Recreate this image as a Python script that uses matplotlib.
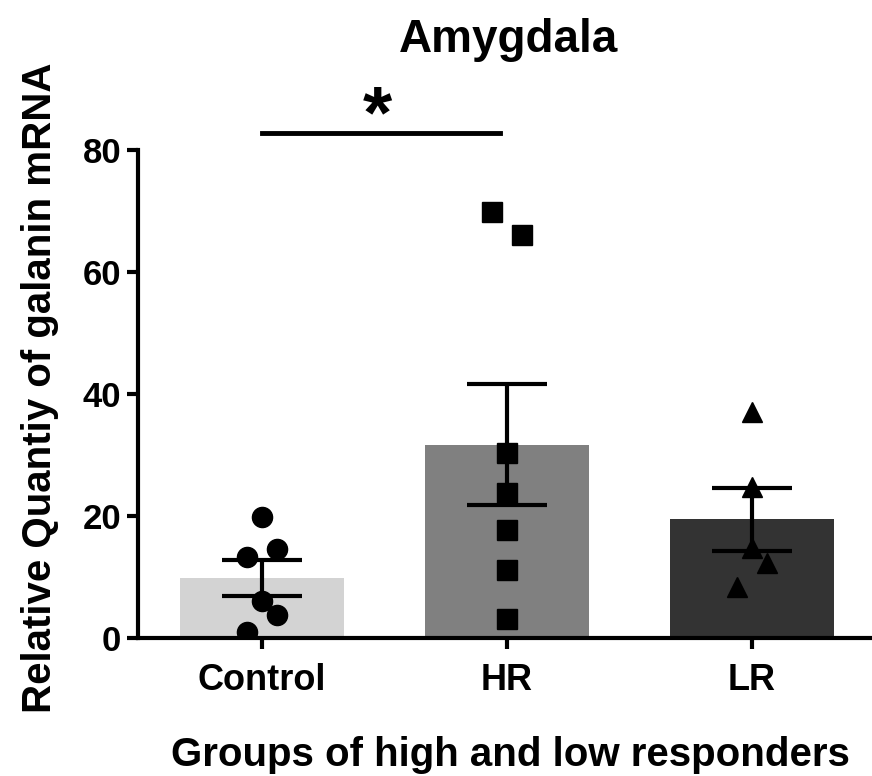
import numpy as np
import matplotlib
matplotlib.use("Agg")
import matplotlib.pyplot as plt

plt.rcParams['font.family'] = ['Liberation Sans', 'DejaVu Sans']
plt.rcParams['font.weight'] = 'bold'

groups = ['Control', 'HR', 'LR']
ctrl_vals = [19.8, 13.3, 14.6, 6.1, 3.8, 1.0]
hr_vals = [69.8, 66.1, 30.3, 23.8, 17.7, 11.1, 3.1]
lr_vals = [37.0, 24.8, 14.8, 12.3, 8.4]
# horizontal spread of the dots (like prism scatter)
ctrl_jit = [0, -0.06, 0.06, 0, 0.06, -0.06]
hr_jit = [-0.06, 0.06, 0, 0, 0, 0, 0]
lr_jit = [0, 0, 0, 0.06, -0.06]

bar_colors = ['#d3d3d3', '#808080', '#333333']
markers = ['o', 's', '^']
yticks = [0, 20, 40, 60, 80]

all_vals = [ctrl_vals, hr_vals, lr_vals]
all_jit = [ctrl_jit, hr_jit, lr_jit]
means = [np.mean(v) for v in all_vals]
sems = [np.std(v, ddof=1) / np.sqrt(len(v)) for v in all_vals]

fig = plt.figure(figsize=(8.72, 7.76), dpi=100)
ax = fig.add_axes([0.1583, 0.1778, 0.8417, 0.6289])

x = np.arange(len(groups))
ax.bar(x, means, width=0.67, color=bar_colors, zorder=1)
for i in range(len(groups)):
    ax.plot(x[i] + np.array(all_jit[i]), all_vals[i], linestyle='none',
            marker=markers[i], markersize=14.5, color='black', zorder=3)
ax.errorbar(x, means, yerr=sems, fmt='none', ecolor='black', elinewidth=3,
            capsize=29, capthick=3, zorder=2)

# significance bar
ax.plot([0, 0.97], [82.8, 82.8], color='black', lw=3.5, clip_on=False)
ax.text(0.47, 82.1, '*', ha='center', va='baseline', fontsize=54,
        fontweight='bold', clip_on=False)

ax.set_xlim(-0.506, 2.49)
ax.set_ylim(0, 80)
ax.set_yticks(yticks)
ax.set_xticks(x)
ax.set_xticklabels(groups)
ax.tick_params(axis='both', width=3, length=8)
ax.tick_params(axis='y', labelsize=25, pad=4)
ax.tick_params(axis='x', labelsize=26, pad=10)
for lab in ax.get_xticklabels() + ax.get_yticklabels():
    lab.set_fontweight('bold')

ax.spines['top'].set_visible(False)
ax.spines['right'].set_visible(False)
ax.spines['left'].set_linewidth(3)
ax.spines['bottom'].set_linewidth(3)

fig.text(40 / 872, 1 - 388 / 776, 'Relative Quantiy of galanin mRNA', rotation=90,
         ha='center', va='center', fontsize=29, fontweight='bold')
fig.text(0.585, 1 - 766 / 776, 'Groups of high and low responders', ha='center',
         va='baseline', fontsize=29, fontweight='bold')
fig.text(0.583, 1 - 52 / 776, 'Amygdala', ha='center', va='baseline',
         fontsize=33, fontweight='bold')

fig.savefig('out.png', dpi=100)
